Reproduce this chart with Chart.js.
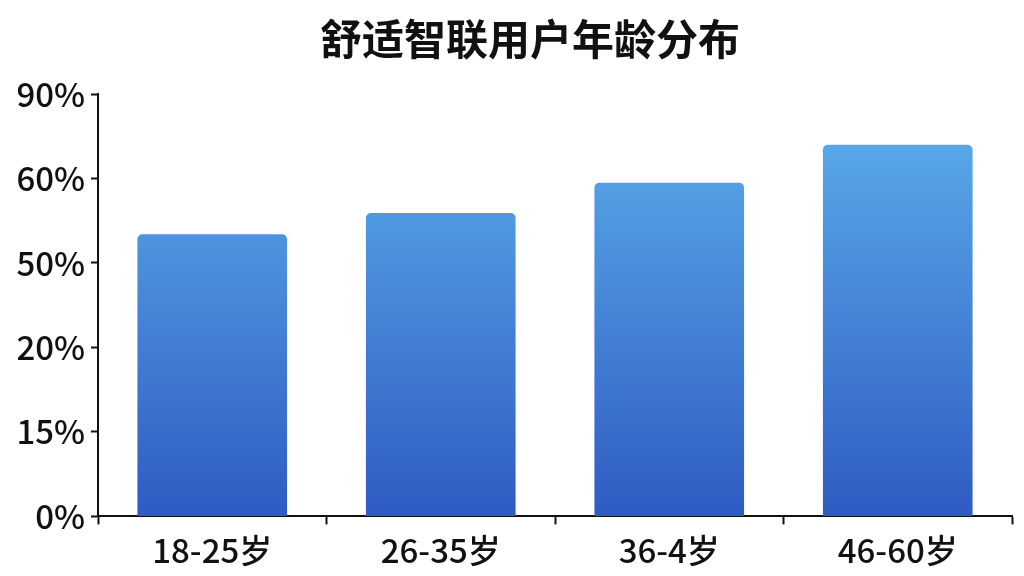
<!DOCTYPE html>
<html>
<head>
<meta charset="utf-8">
<script src="https://cdn.jsdelivr.net/npm/chart.js@4"></script>
<style>
  html, body { margin: 0; padding: 0; background: #fff; }
  #wrap { width: 1024px; height: 576px; }
</style>
</head>
<body>
<div id="wrap"><canvas id="canvas"></canvas></div>
<script>
// Age groups on the x axis
const categories = ['18-25岁', '26-35岁', '36-4岁', '46-60岁'];
// The y axis labels are evenly spaced, so values are kept as positions on that axis (0 = first label)
const yTickLabels = ['0%', '15%', '20%', '50%', '60%', '90%'];
const barHeights = [3.34, 3.59, 3.95, 4.40];
const chartTitle = '舒适智联用户年龄分布';

const font = '"Noto Sans CJK SC", "Noto Sans", sans-serif';

function barGradient(context) {
    const chart = context.chart;
    const area = chart.chartArea;
    if (!area) return '#3f7fd6';
    const g = chart.ctx.createLinearGradient(0, area.top, 0, area.bottom);
    g.addColorStop(0, '#5db1ec');
    g.addColorStop(1, '#2f5bc3');
    return g;
}

// title sits a little right of the canvas centre, so draw it ourselves
const titlePlugin = {
    id: 'titleText',
    afterDraw(chart) {
        const c = chart.ctx;
        c.save();
        c.font = 'bold 42px ' + font;
        c.fillStyle = '#111';
        c.textAlign = 'center';
        c.textBaseline = 'middle';
        c.fillText(chartTitle, chart.width / 2 + 18, 39);
        c.restore();
    }
};

const canvas = document.getElementById('canvas');
const ctx = canvas.getContext('2d');
const config = {
    type: 'bar',
    data: {
        labels: categories,
        datasets: [{
            label: '用户占比',
            data: barHeights,
            backgroundColor: barGradient,
            borderRadius: { topLeft: 5, topRight: 5 },
            borderSkipped: 'bottom',
            categoryPercentage: 1,
            barPercentage: 0.655
        }]
    },
    options: {
        responsive: true,
        maintainAspectRatio: false,
        animation: false,
        layout: { padding: { left: 10, right: 12, top: 94, bottom: 0 } },
        plugins: {
            legend: { display: false },
            tooltip: { enabled: false }
        },
        scales: {
            x: {
                border: { color: '#111', width: 2 },
                grid: { drawOnChartArea: false, drawTicks: true, tickLength: 8, tickColor: '#111', tickWidth: 2 },
                ticks: { color: '#111', padding: 6, font: { family: font, size: 33, weight: 500 } }
            },
            y: {
                min: 0,
                max: 5,
                afterFit: function(scale) { scale.width = 88; },
                border: { color: '#111', width: 2 },
                grid: { drawOnChartArea: false, drawTicks: true, tickLength: 7, tickColor: '#111', tickWidth: 2 },
                ticks: {
                    stepSize: 1,
                    color: '#111',
                    padding: 6,
                    font: { family: font, size: 33, weight: 500 },
                    callback: function(value) { return yTickLabels[value]; }
                }
            }
        }
    },
    plugins: [titlePlugin]
};
const chart = new Chart(ctx, config);
</script>
</body>
</html>
